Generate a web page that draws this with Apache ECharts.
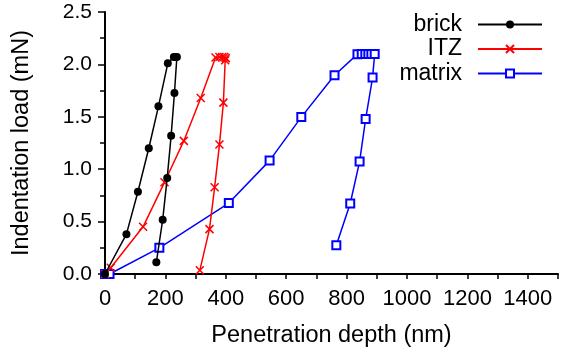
<!DOCTYPE html>
<html>
<head>
<meta charset="utf-8">
<script src="https://cdn.jsdelivr.net/npm/echarts@6/dist/echarts.min.js"></script>
<style>
html,body{margin:0;padding:0;background:#fff;}
#chart{width:561px;height:355px;}
</style>
</head>
<body>
<div id="chart"></div>
<script>
// Penetration depth (nm), indentation load (mN)
var brickDepth = [0, 71, 109, 145, 177, 208, 228, 233, 238, 230, 219, 206, 191, 170];
var brickLoad  = [0, 0.38, 0.785, 1.20, 1.60, 2.01, 2.07, 2.07, 2.07, 1.727, 1.32, 0.917, 0.517, 0.112];

var itzDepth = [0, 19, 126, 197, 261, 317, 366, 379, 388, 395, 400, 398, 392, 379, 363, 346, 314];
var itzLoad  = [0, 0.06, 0.45, 0.875, 1.27, 1.68, 2.066, 2.07, 2.07, 2.07, 2.06, 2.04, 1.635, 1.235, 0.827, 0.428, 0.035];

var matrixDepth = [0, 15, 180, 410, 545, 650, 760, 836, 850, 862, 872, 882, 893, 886, 863, 843, 812, 766];
var matrixLoad  = [0, 0, 0.25, 0.677, 1.082, 1.497, 1.897, 2.098, 2.1, 2.1, 2.1, 2.1, 2.1, 1.874, 1.478, 1.073, 0.673, 0.275];

var seriesNames = ['brick', 'ITZ', 'matrix'];
var xTicks = [0, 200, 400, 600, 800, 1000, 1200, 1400];
var yTicks = [0.0, 0.5, 1.0, 1.5, 2.0, 2.5];

function pairs(xs, ys) { return xs.map(function (x, i) { return [x, ys[i]]; }); }

var FONT = 'Liberation Sans, Arial, sans-serif';
var crossPath = 'path://M0,0L10,10M10,0L0,10';

var chart = echarts.init(document.getElementById('chart'), null, {renderer: 'canvas'});
chart.setOption({
  animation: false,
  backgroundColor: '#fff',
  textStyle: {fontFamily: FONT},
  grid: {left: 105, top: 12, width: 458, height: 262},
  legend: {
    orient: 'vertical',
    right: 13,
    top: 8,
    align: 'right',
    itemWidth: 64,
    itemHeight: 10,
    itemGap: 1.5,
    textStyle: {fontSize: 23, fontFamily: FONT, color: '#000', padding: [0, 11, 0, 0]},
    data: seriesNames
  },
  xAxis: {
    type: 'value',
    min: 0, max: 1500, interval: 200,
    name: 'Penetration depth (nm)',
    nameLocation: 'middle',
    nameGap: 50,
    nameTextStyle: {fontSize: 23.5, fontFamily: FONT, color: '#000'},
    axisLine: {show: true, onZero: false, lineStyle: {color: '#000', width: 2}},
    axisTick: {show: true, inside: false, length: 5, lineStyle: {color: '#000', width: 1.5}},
    minorTick: {show: true, splitNumber: 2, length: 5, lineStyle: {color: '#000', width: 1.5}},
    splitLine: {show: false},
    axisLabel: {
      fontSize: 22, fontFamily: FONT, color: '#000', margin: 14,
      formatter: function (v) { return xTicks.indexOf(v) >= 0 ? String(v) : ''; }
    }
  },
  yAxis: {
    type: 'value',
    min: 0, max: 2.5, interval: 0.5,
    name: 'Indentation load (mN)',
    nameLocation: 'middle',
    nameGap: 71,
    nameTextStyle: {fontSize: 23.5, fontFamily: FONT, color: '#000'},
    axisLine: {show: true, onZero: false, lineStyle: {color: '#000', width: 2}},
    axisTick: {show: true, inside: false, length: 7, lineStyle: {color: '#000', width: 1.5}},
    minorTick: {show: true, splitNumber: 2, length: 5, lineStyle: {color: '#000', width: 1.5}},
    splitLine: {show: false},
    axisLabel: {
      fontSize: 21, fontFamily: FONT, color: '#000', margin: 13,
      formatter: function (v) { return v.toFixed(1); }
    }
  },
  series: [
    {
      name: seriesNames[0], type: 'line', data: pairs(brickDepth, brickLoad),
      symbol: 'circle', symbolSize: 8,
      lineStyle: {color: '#000', width: 1.5},
      itemStyle: {color: '#000'},
      z: 4
    },
    {
      name: seriesNames[1], type: 'line', data: pairs(itzDepth, itzLoad),
      symbol: crossPath, symbolSize: 8,
      lineStyle: {color: '#ff0000', width: 1.5},
      itemStyle: {color: '#ff0000', borderColor: '#ff0000', borderWidth: 1.5},
      z: 3
    },
    {
      name: seriesNames[2], type: 'line', data: pairs(matrixDepth, matrixLoad),
      symbol: 'emptyRect', symbolSize: 8,
      lineStyle: {color: '#0000ff', width: 1.5},
      itemStyle: {color: '#0000ff', borderColor: '#0000ff', borderWidth: 1.5},
      z: 2
    }
  ]
});
</script>
</body>
</html>
